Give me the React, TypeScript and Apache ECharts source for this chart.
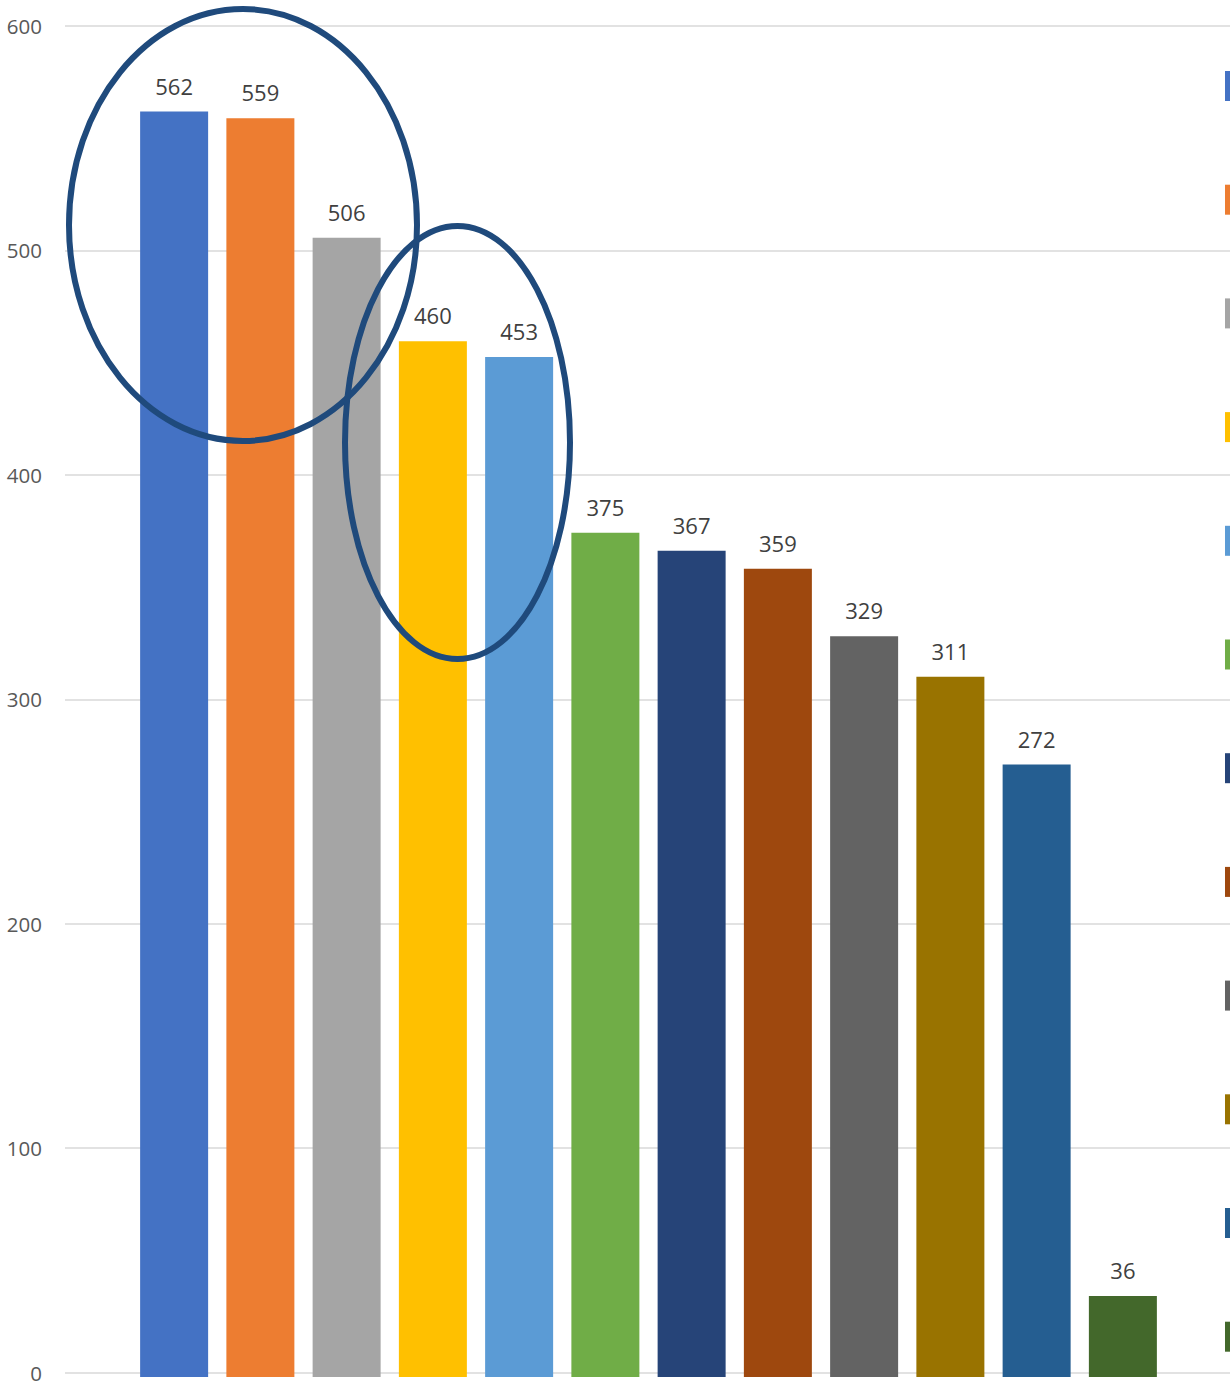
import React, { useEffect, useRef } from "react";
import * as echarts from "echarts";

const categories = ["1", "2", "3", "4", "5", "6", "7", "8", "9", "10", "11", "12"];
const values = [562, 559, 506, 460, 453, 375, 367, 359, 329, 311, 272, 36];
const colors = [
  "#4472C4", "#ED7D31", "#A5A5A5", "#FFC000", "#5B9BD5", "#70AD47",
  "#264478", "#9E480E", "#636363", "#997300", "#255E91", "#43682B",
];
const yTicks = [0, 100, 200, 300, 400, 500, 600];

const FONT = "'Open Sans', 'Noto Sans', sans-serif";

export default function App() {
  const ref = useRef<HTMLDivElement>(null);
  useEffect(() => {
    if (!ref.current) return;
    const chart = echarts.init(ref.current, undefined, { renderer: "svg" });
    const legendRects = colors.map((c, i) => ({
      type: "rect",
      shape: { x: 1225, y: 71 + i * 113.7, width: 8, height: 30 },
      style: { fill: c },
      z: 10,
    }));
    chart.setOption({
      animation: false,
      backgroundColor: "#ffffff",
      grid: [
        { left: 65, right: 0, top: 26, bottom: 6, containLabel: false },
        { left: 131, right: 64, top: 26, bottom: 6, containLabel: false },
      ],
      xAxis: [
        {
          gridIndex: 0,
          type: "value",
          min: 0,
          max: 1,
          show: false,
          splitLine: { show: false },
        },
        {
          gridIndex: 1,
          type: "category",
          data: categories,
          axisLine: { show: false },
          axisTick: { show: false },
          axisLabel: { show: false },
        },
      ],
      yAxis: [
        {
          gridIndex: 0,
          type: "value",
          min: yTicks[0],
          max: yTicks[yTicks.length - 1],
          interval: 100,
          axisLine: { show: false },
          axisTick: { show: false },
          axisLabel: {
            fontFamily: FONT,
            fontSize: 20.5,
            color: "#595959",
            margin: 23,
            verticalAlign: "middle",
          },
          splitLine: { show: true, lineStyle: { color: "#d9d9d9", width: 1.5 } },
        },
        {
          gridIndex: 1,
          type: "value",
          min: yTicks[0],
          max: yTicks[yTicks.length - 1],
          interval: 100,
          show: false,
          splitLine: { show: false },
        },
      ],
      series: [
        {
          type: "bar",
          xAxisIndex: 1,
          yAxisIndex: 1,
          barWidth: 68,
          data: values.map((v, i) => ({ value: v, itemStyle: { color: colors[i] } })),
          label: {
            show: true,
            position: "top",
            distance: 15,
            fontFamily: FONT,
            fontSize: 22,
            color: "#404040",
          },
          z: 2,
        },
      ],
      graphic: [
        ...legendRects,
        {
          type: "ellipse",
          shape: { cx: 243, cy: 225, rx: 174, ry: 216 },
          style: { fill: "none", stroke: "#1F4A7C", lineWidth: 6 },
          z: 20,
        },
        {
          type: "ellipse",
          shape: { cx: 457.5, cy: 442.5, rx: 112.5, ry: 216.5 },
          style: { fill: "none", stroke: "#1F4A7C", lineWidth: 6 },
          z: 20,
        },
      ],
    });
    return () => chart.dispose();
  }, []);
  return (
    <div
      ref={ref}
      style={{ position: "absolute", left: 0, top: 0, width: 1230, height: 1383 }}
    />
  );
}
